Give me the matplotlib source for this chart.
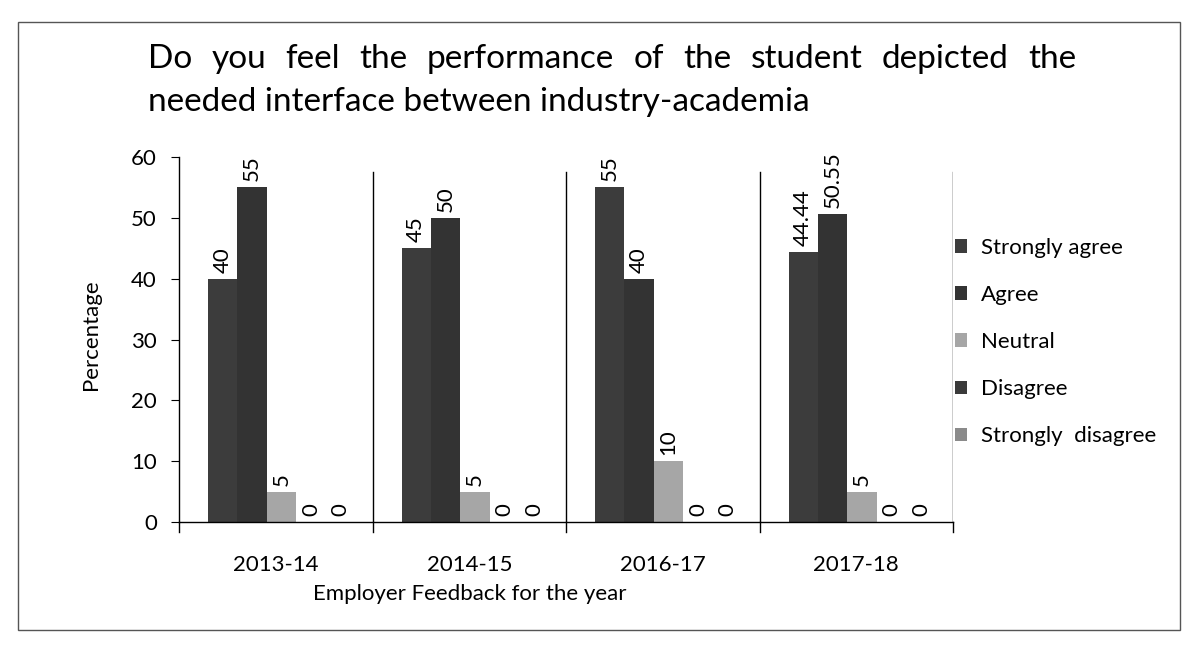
import matplotlib
matplotlib.use("Agg")
import matplotlib.pyplot as plt
import numpy as np
from matplotlib.patches import Rectangle

plt.rcParams['font.family'] = ['Lato', 'DejaVu Sans']

years = ["2013-14", "2014-15", "2016-17", "2017-18"]
series = ["Strongly agree", "Agree", "Neutral", "Disagree", "Strongly  disagree"]
strongly_agree = [40, 45, 55, 44.44]
agree = [55, 50, 40, 50.55]
neutral = [5, 5, 10, 5]
disagree = [0, 0, 0, 0]
strongly_disagree = [0, 0, 0, 0]
labels_text = [["40", "45", "55", "44.44"], ["55", "50", "40", "50.55"],
               ["5", "5", "10", "5"], ["0", "0", "0", "0"], ["0", "0", "0", "0"]]
values = [strongly_agree, agree, neutral, disagree, strongly_disagree]
colors = ["#3c3c3c", "#333333", "#a6a6a6", "#3a3a3a", "#8a8a8a"]
title_line1 = "Do you feel the performance of the student depicted the"
title_line2 = "needed interface between industry-academia"

FS = 16
W, H = 1191, 652
fig = plt.figure(figsize=(W / 100, H / 100), dpi=100)
ax = fig.add_axes([179 / W, 1 - 522 / H, (953 - 179) / W, (522 - 157) / H])

x = np.arange(len(years))
w = 0.152
for i, (vals, c) in enumerate(zip(values, colors)):
    pos = x + (i - 2) * w + 0.03
    ax.bar(pos, vals, width=w, color=c, label=series[i], linewidth=0)
    for p, v, t in zip(pos, vals, labels_text[i]):
        ax.text(p, v + 1.0, t, rotation=90, ha='center', va='bottom', fontsize=FS)

ax.set_ylim(0, 60)
ax.set_xlim(-0.5, len(years) - 0.5)
ax.set_yticks(range(0, 61, 10))
ax.set_xticks(x)
ax.set_xticklabels(years, fontsize=FS)
ax.tick_params(axis='y', labelsize=FS, direction='out', length=6, pad=10)
ax.tick_params(axis='x', length=0, pad=24)
for b in np.arange(0.5, len(years) + 0.5, 1.0):
    ax.axvline(b, color='black', linewidth=1.0, ymin=0, ymax=0.96)
for b in np.arange(-0.5, len(years) + 0.5, 1.0):
    ax.plot([b, b], [0, -1.6], color='black', linewidth=1.0, clip_on=False)
for s in ['top', 'right']:
    ax.spines[s].set_visible(False)
ax.spines['left'].set_linewidth(1.0)
ax.spines['bottom'].set_linewidth(1.0)

ax.set_ylabel("Percentage", fontsize=FS)
ax.yaxis.set_label_coords((101 - 179) / (953 - 179), (522 - 335) / (522 - 157))
fig.text(470 / W, 1 - 594 / H, "Employer Feedback for the year", fontsize=FS,
         ha='center', va='center')

# title: first line justified across the width, second line left aligned
fig.canvas.draw()
renderer = fig.canvas.get_renderer()
words = title_line1.split()
texts = [fig.text(0, 1 - 68 / H, wd, fontsize=24, ha='left', va='baseline') for wd in words]
widths = [t.get_window_extent(renderer).width for t in texts]
x0, x1 = 148.0, 1076.0
gap = (x1 - x0 - sum(widths)) / (len(words) - 1)
cur = x0
for t, wd in zip(texts, widths):
    t.set_x(cur / W)
    cur += wd + gap
fig.text(148 / W, 1 - 111 / H, title_line2, fontsize=24, ha='left', va='baseline')

ax.legend(loc='center left', bbox_to_anchor=(955 / W, 1 - 342 / H),
          bbox_transform=fig.transFigure, frameon=False, fontsize=FS,
          handlelength=0.55, handleheight=0.55, handletextpad=0.6,
          labelspacing=1.22, borderaxespad=0, borderpad=0)

fig.patches.append(Rectangle((18 / W, 1 - 630 / H), (1180 - 18) / W, (630 - 22) / H,
                             transform=fig.transFigure, fill=False,
                             edgecolor='#555555', linewidth=1.0))

fig.savefig("out.png", dpi=100)
